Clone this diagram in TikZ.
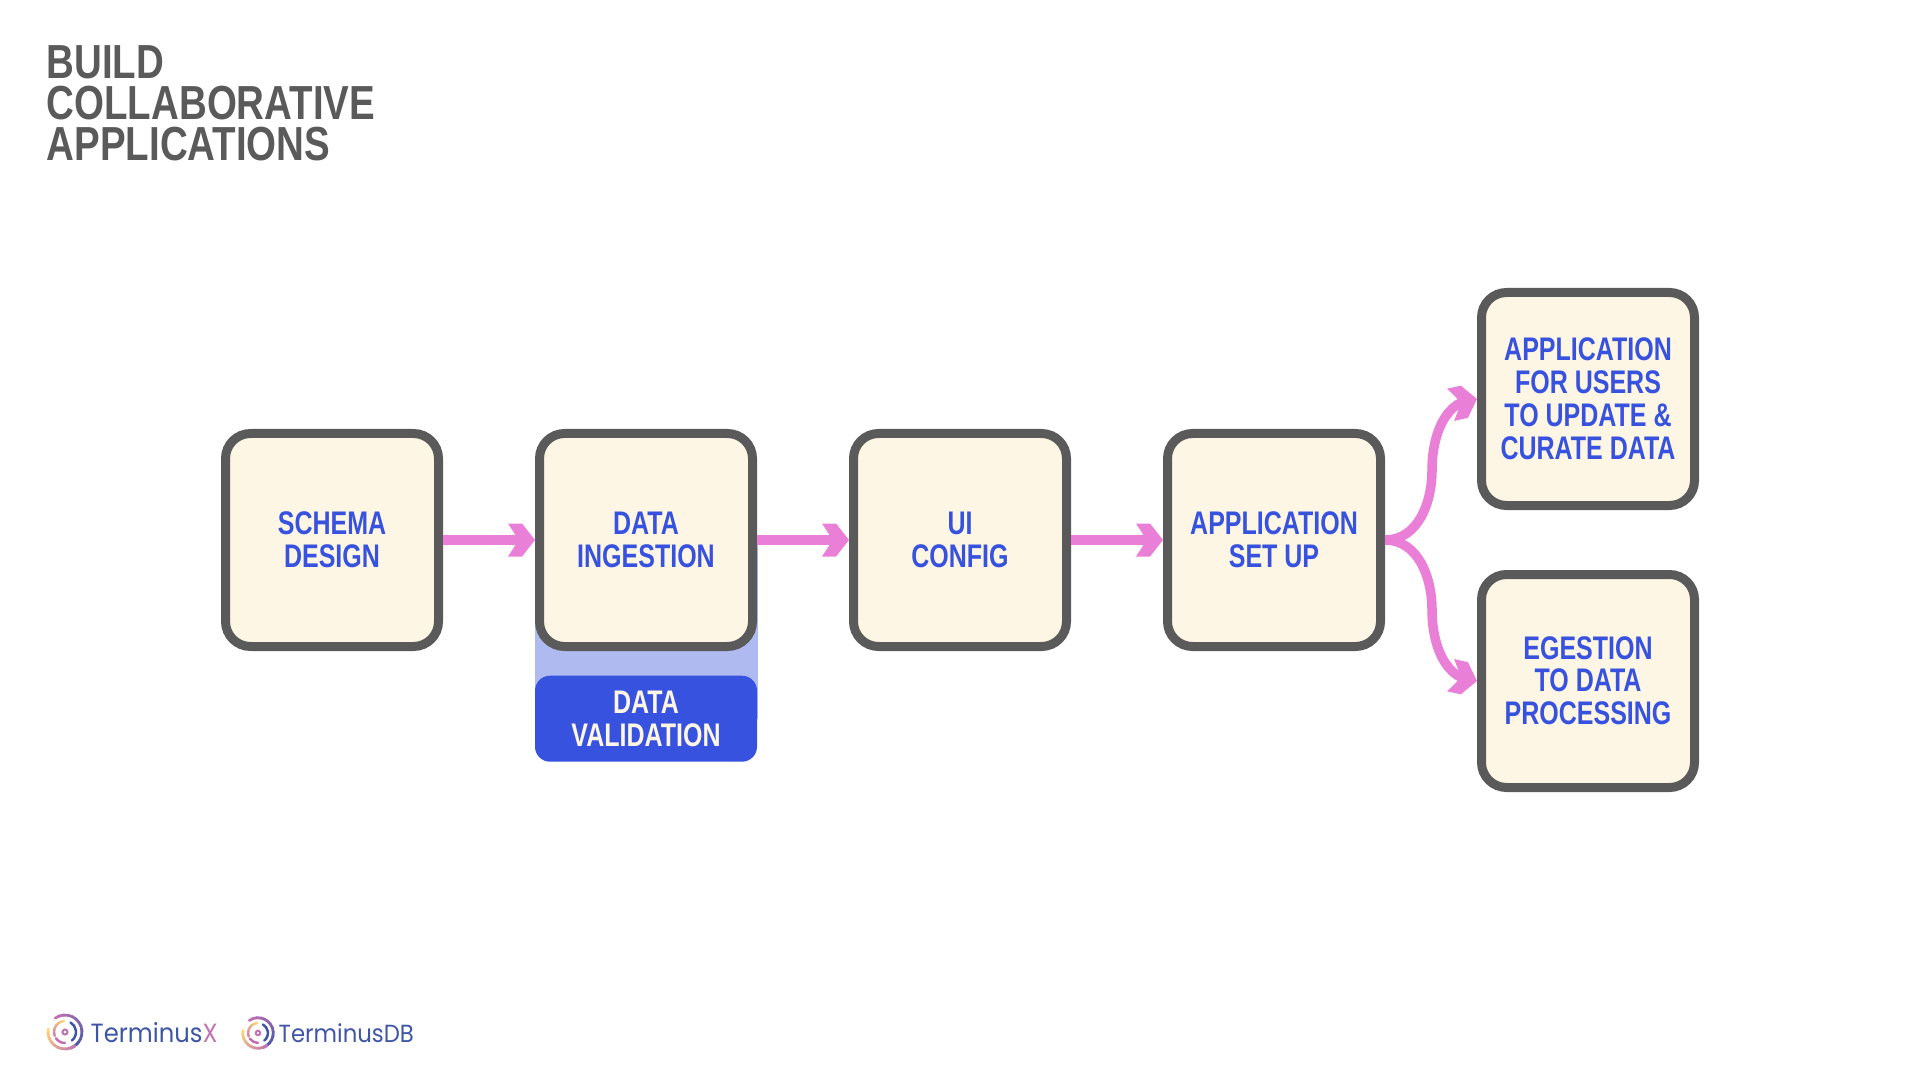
\documentclass[tikz,border=0pt]{standalone}
\usepackage{fontspec}
\usepackage{xcolor}
\usetikzlibrary{positioning,arrows.meta,bending,backgrounds}
\setmainfont{Liberation Sans}[FakeStretch=0.765]
\newfontfamily\titlefont{Liberation Sans}[FakeStretch=0.805]
\newfontfamily\logofont{Poppins}[FakeStretch=0.92]
\definecolor{frame}{HTML}{5A5A5A}
\definecolor{cream}{HTML}{FEF6E5}
\definecolor{inkblue}{HTML}{3752DE}
\definecolor{bandblue}{HTML}{AFBAF0}
\definecolor{flowpink}{HTML}{E97FD6}
\definecolor{logoyellow}{HTML}{FAD67A}
\definecolor{logopink}{HTML}{C271B4}
\definecolor{logoblue}{HTML}{3F56A6}
% open arrow head with flat ends
\pgfdeclarearrow{
	name=FlatChevron,
	setup code={
		\pgfarrowssettipend{0pt}
		\pgfarrowssetbackend{-\pgfarrowlength}
		\pgfarrowssetlineend{-.5\pgfarrowlength}
		\pgfarrowssetvisualbackend{-.6\pgfarrowlength}
		\pgfarrowshullpoint{0pt}{0pt}
		\pgfarrowsupperhullpoint{-\pgfarrowlength}{.5\pgfarrowwidth}
		\pgfarrowssavethe\pgfarrowlength
		\pgfarrowssavethe\pgfarrowwidth
	},
	drawing code={
		\pgfpathmoveto{\pgfpointorigin}
		\pgfpathlineto{\pgfqpoint{-.48\pgfarrowlength}{.5\pgfarrowwidth}}
		\pgfpathlineto{\pgfqpoint{-\pgfarrowlength}{.5\pgfarrowwidth}}
		\pgfpathlineto{\pgfqpoint{-.6\pgfarrowlength}{0pt}}
		\pgfpathlineto{\pgfqpoint{-\pgfarrowlength}{-.5\pgfarrowwidth}}
		\pgfpathlineto{\pgfqpoint{-.48\pgfarrowlength}{-.5\pgfarrowwidth}}
		\pgfpathclose
		\pgfusepathqfill
	},
	parameters={\the\pgfarrowlength,\the\pgfarrowwidth},
	defaults={length=0.27cm, width=0.33cm}
}
\tikzset{
	stage/.style={draw=frame, fill=cream, line width=0.09cm, rounded corners=0.25cm, minimum size=2.13cm, align=center, text=inkblue, text depth=0.01cm, font=\bfseries\fontsize{9.3}{9.35}\selectfont},
	flow/.style={draw=flowpink, line width=0.095cm, -{FlatChevron[flex]}},
	logomark/.pic={
		\foreach \a [evaluate=\a as \p using {(\a+55)/1.8}] in {125,110,...,-55}
			\draw[line width=0.028cm, line cap=round, color=logopink!\p!logoblue] (\a:0.17) arc (\a:\a-16:0.17);
		\foreach \a [evaluate=\a as \p using {(\a-170)/1.3}] in {170,185,...,290}
			\draw[line width=0.028cm, line cap=round, color=logopink!\p!logoyellow] (\a:0.17) arc (\a:\a+16:0.17);
		\foreach \a [evaluate=\a as \p using {(\a-95)/1.2}] in {95,110,...,185}
			\draw[line width=0.025cm, line cap=round, color=logopink!\p!logoyellow] (\a:0.11) arc (\a:\a+16:0.11);
		\draw[line width=0.025cm, line cap=round, color=logopink] (215:0.11) arc (215:270:0.11);
		\draw[line width=0.025cm, line cap=round, color=logoblue] (-50:0.11) arc (-50:60:0.11);
		\draw[line width=0.02cm, color=logopink] (0,0) circle (0.025);
	}
}

\begin{document}
\begin{tikzpicture}
	\useasboundingbox (0,0) rectangle (19.2,-10.8);
	\node[anchor=north west, inner sep=0pt, align=left, text=frame, font=\titlefont\bfseries\fontsize{13.6}{11.67}\selectfont] (title) at (0.46,-0.45) {BUILD\\COLLABORATIVE\\APPLICATIONS};

	\node[stage] (schema) at (3.32,-5.4) {SCHEMA\\DESIGN};
	\node[stage, right=0.92cm of schema] (ingestion) {DATA\\INGESTION};
	\node[stage, right=0.92cm of ingestion] (config) {UI\\CONFIG};
	\node[stage, right=0.92cm of config] (setup) {APPLICATION\\SET UP};
	\node[stage, above right=-0.81cm and 0.92cm of setup] (users) {APPLICATION\\FOR USERS\\TO UPDATE \&\\CURATE DATA};
	\node[stage, below right=-0.81cm and 0.92cm of setup] (egestion) {EGESTION\\TO DATA\\PROCESSING};
	\node[below=0.24cm of ingestion, fill=inkblue, text=cream, rounded corners=0.15cm, minimum width=2.22cm, minimum height=0.86cm, inner sep=0pt, align=center, font=\bfseries\fontsize{9.3}{9.35}\selectfont] (validation) {DATA\\VALIDATION};

	\begin{scope}[on background layer]
		\fill[bandblue] (ingestion.west) rectangle (validation.east);
	\end{scope}

	\draw[flow] (schema) -- (ingestion);
	\draw[flow] (ingestion) -- (config);
	\draw[flow] (config) -- (setup);

	\coordinate (upbend) at (14.32,-4.7);
	\coordinate (downbend) at (14.32,-6.1);
	\draw[flow] (setup.east) to[out=0, in=-90] (upbend) to[out=90, in=180] (users.west);
	\draw[flow] (setup.east) to[out=0, in=90] (downbend) to[out=-90, in=180] (egestion.west);

	\pic (markx) at (0.65,-10.32) {logomark};
	\node[anchor=west, inner sep=0pt, text=logoblue, font=\logofont\fontsize{7.5}{7.5}\selectfont] (terminusx) at (0.90,-10.33) {Terminus\textcolor{logopink}{X}};
	\pic[scale=0.9] (markdb) at (2.58,-10.33) {logomark};
	\node[anchor=west, inner sep=0pt, text=logoblue, font=\logofont\fontsize{7.05}{7.05}\selectfont] (terminusdb) at (2.78,-10.33) {TerminusDB};
\end{tikzpicture}
\end{document}
